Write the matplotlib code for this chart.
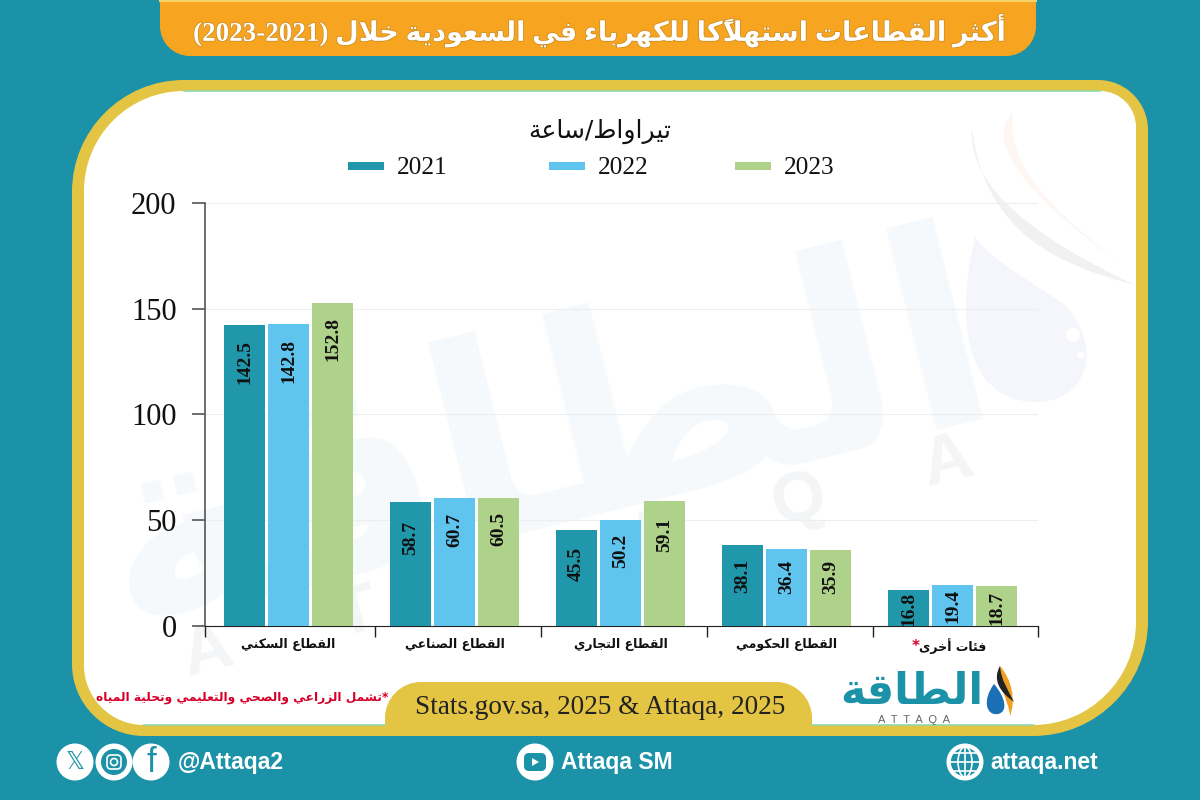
import matplotlib
matplotlib.use('Agg')
import matplotlib.pyplot as plt
import numpy as np
from matplotlib.path import Path
from matplotlib.patches import PathPatch, Circle, Rectangle, FancyBboxPatch, Ellipse, Polygon
import matplotlib.patheffects as pe

# data
categories = ['القطاع السكني', 'القطاع الصناعي', 'القطاع التجاري', 'القطاع الحكومي', 'فئات أخرى']
values_2021 = [142.5, 58.7, 45.5, 38.1, 16.8]
values_2022 = [142.8, 60.7, 50.2, 36.4, 19.4]
values_2023 = [152.8, 60.5, 59.1, 35.9, 18.7]
years = ['2021', '2022', '2023']
yticks = [0, 50, 100, 150, 200]

title_ar = 'أكثر القطاعات استهلاكًا للكهرباء في السعودية خلال'
title_years = '(2023-2021)'
unit = 'تيراواط/ساعة'
note = '*تشمل الزراعي والصحي والتعليمي وتحلية المياه'
source = 'Stats.gov.sa, 2025 & Attaqa, 2025'
logo_ar = 'الطاقة'

TEAL = '#1b92a8'
ORANGE = '#f7a520'
GOLD = '#e3c443'
colors = ['#2197ab', '#5fc5ef', '#afd28a']

# gap in px between bar top and its label, per year then category
label_gaps = [[15, 19, 17, 13, 1], [15, 15, 14, 11, 4], [14, 14, 17, 10, 4]]

# matplotlib does no arabic shaping, so map to presentation forms and reverse
dual = {'ئ': 0xFE89, 'ب': 0xFE8F, 'ت': 0xFE95, 'ث': 0xFE99, 'ج': 0xFE9D, 'ح': 0xFEA1, 'خ': 0xFEA5,
        'س': 0xFEB1, 'ش': 0xFEB5, 'ص': 0xFEB9, 'ض': 0xFEBD, 'ط': 0xFEC1, 'ظ': 0xFEC5, 'ع': 0xFEC9,
        'غ': 0xFECD, 'ف': 0xFED1, 'ق': 0xFED5, 'ك': 0xFED9, 'ل': 0xFEDD, 'م': 0xFEE1, 'ن': 0xFEE5,
        'ه': 0xFEE9, 'ي': 0xFEF1}
right = {'آ': 0xFE81, 'أ': 0xFE83, 'ؤ': 0xFE85, 'إ': 0xFE87, 'ا': 0xFE8D, 'ة': 0xFE93, 'د': 0xFEA9,
         'ذ': 0xFEAB, 'ر': 0xFEAD, 'ز': 0xFEAF, 'و': 0xFEED, 'ى': 0xFEEF}
lam_alef = {'ا': 0xFEFB, 'أ': 0xFEF7, 'إ': 0xFEF9, 'آ': 0xFEF5}
marks = '\u064b\u064c\u064d\u064e\u064f\u0650\u0651\u0652'


def shape(s):
    # split into letters with their marks
    items = []
    for c in s:
        if c in marks and items:
            items[-1][1] += c
        else:
            items.append([c, ''])
    out = []
    i = 0
    prev_joins = False
    while i < len(items):
        c, m = items[i]
        nxt = items[i + 1][0] if i + 1 < len(items) else ''
        if c == 'ل' and nxt in lam_alef and nxt:
            out.append(chr(lam_alef[nxt] + (1 if prev_joins else 0)) + m + items[i + 1][1])
            prev_joins = False
            i += 2
            continue
        if c in dual:
            base = dual[c]
            next_ok = nxt in dual or nxt in right
            if prev_joins and next_ok:
                g = base + 3
            elif prev_joins:
                g = base + 1
            elif next_ok:
                g = base + 2
            else:
                g = base
            out.append(chr(g) + m)
            prev_joins = next_ok
        elif c in right:
            out.append(chr(right[c] + (1 if prev_joins else 0)) + m)
            prev_joins = False
        else:
            out.append(c + m)
            prev_joins = False
        i += 1
    return ''.join(reversed(out))


def rrect(x0, y0, x1, y1, tl, tr, br, bl):
    k = 0.5523
    v = [(x0 + tl, y0), (x1 - tr, y0),
         (x1 - tr + k * tr, y0), (x1, y0 + tr - k * tr), (x1, y0 + tr),
         (x1, y1 - br),
         (x1, y1 - br + k * br), (x1 - br + k * br, y1), (x1 - br, y1),
         (x0 + bl, y1),
         (x0 + bl - k * bl, y1), (x0, y1 - bl + k * bl), (x0, y1 - bl),
         (x0, y0 + tl),
         (x0, y0 + tl - k * tl), (x0 + tl - k * tl, y0), (x0 + tl, y0), (x0 + tl, y0)]
    c = [Path.MOVETO, Path.LINETO, Path.CURVE4, Path.CURVE4, Path.CURVE4, Path.LINETO,
         Path.CURVE4, Path.CURVE4, Path.CURVE4, Path.LINETO, Path.CURVE4, Path.CURVE4, Path.CURVE4,
         Path.LINETO, Path.CURVE4, Path.CURVE4, Path.CURVE4, Path.CLOSEPOLY]
    return Path(v, c)


def blob(a, pts, color, **kw):
    # closed shape from cubic segments, pts = start + 3 per segment
    codes = [Path.MOVETO] + [Path.CURVE4] * (len(pts) - 1)
    p = PathPatch(Path(pts, codes), fc=color, ec='none', **kw)
    a.add_patch(p)
    return p


fig = plt.figure(figsize=(12, 8), dpi=100)
bg = fig.add_axes([0, 0, 1, 1], zorder=0)
bg.set_xlim(0, 1200)
bg.set_ylim(800, 0)
bg.axis('off')
bg.add_patch(Rectangle((0, 0), 1200, 800, fc=TEAL, ec='none'))

# title bar
bg.add_patch(PathPatch(rrect(160, -40, 1036, 56, 0, 0, 30, 30), fc=ORANGE, ec='none'))
bg.plot([160, 1036], [1, 1], color='#f3d36a', lw=1.5)
bg.text(600, 31, title_years + ' ' + shape(title_ar), color='white', fontsize=19.5, weight='bold',
        family=['Liberation Serif', 'DejaVu Sans'], ha='center', va='center',
        path_effects=[pe.withStroke(linewidth=1, foreground='#c98a20')])

# frame
bg.add_patch(PathPatch(rrect(72, 80, 1148, 736, 112, 50, 115, 72), fc=GOLD, ec='none'))
panel = PathPatch(rrect(84, 91, 1136, 725, 100, 36, 103, 60), fc='white', ec='none')
bg.add_patch(panel)
bg.plot([184, 1100], [91, 91], color='#8fd8ae', lw=1.2)
bg.plot([144, 385], [724.5, 724.5], color='#8fd8ae', lw=1.2)
bg.plot([812, 1033], [724.5, 724.5], color='#8fd8ae', lw=1.2)

# watermark
wm = bg.text(545, 445, shape(logo_ar), fontsize=197, weight='bold', color='#f6f9fb',
             family='DejaVu Sans', ha='center', va='center', rotation=14)
for i, ch in enumerate('ATTAQA'):
    bg.text(207 + 148 * i, 652 - 38 * i, ch, fontsize=50, weight='bold', color='#f4f5f6',
            family='Liberation Sans', ha='center', va='center', rotation=14)
blob(bg, [(972, 128), (968, 190), (1040, 240), (1135, 285),
          (1060, 265), (985, 235), (972, 128)], '#f1f1f2')
blob(bg, [(1013, 112), (985, 140), (1020, 190), (1118, 262),
          (1060, 215), (1005, 170), (1013, 112)], '#fdf6f2')
blob(bg, [(975, 237), (955, 320), (965, 402), (1037, 402),
          (1085, 402), (1105, 350), (1065, 305),
          (1030, 280), (990, 260), (975, 237)], '#f5f6fb')
bg.add_patch(Circle((1073, 335), 7, fc='white', ec='none'))
bg.add_patch(Circle((1081, 355), 3.5, fc='white', ec='none'))

# source pill
bg.add_patch(PathPatch(rrect(385, 682, 812, 726, 36, 36, 0, 0), fc=GOLD, ec='none'))
bg.text(600, 708, source, fontsize=19.6, family='Liberation Serif', color='#222222', ha='center', va='center')
bg.text(388, 697, shape(note), fontsize=8.8, weight='bold', color='#d6002a', family='DejaVu Sans', ha='right', va='center')

# unit + legend
bg.text(600, 131, shape(unit), fontsize=18, family='DejaVu Sans', color='#111111', ha='center', va='center')
for yr, col, xs in zip(years, colors, [348, 549, 735]):
    bg.add_patch(Rectangle((xs, 162), 36, 8, fc=col, ec='none'))
    bg.text(xs + 49, 168, yr, fontsize=18.3, family='Liberation Serif', color='#111111', va='center')

# logo
bg.text(912, 692, shape(logo_ar), fontsize=31, weight='bold', color=TEAL, family='DejaVu Sans', ha='center', va='center')
bg.text(914, 720, 'A  T  T  A  Q  A', fontsize=8, color='#666666', family='Liberation Sans', ha='center', va='center')
blob(bg, [(1000, 666), (1012, 680), (1016, 700), (1010, 716),
          (1009, 700), (996, 685), (1000, 666)], '#f0a020')
blob(bg, [(1000, 666), (992, 680), (1000, 692), (1014, 702),
          (1008, 690), (1001, 680), (1000, 666)], '#222222')
blob(bg, [(994, 684), (982, 700), (986, 716), (998, 714),
          (1008, 712), (1006, 698), (994, 684)], '#1b6fb5')

# footer icons
for cx in [75, 114, 151, 535, 965]:
    bg.add_patch(Circle((cx, 762), 18.5, fc='white', ec='none'))
bg.text(75, 762, '\U0001D54F', fontsize=17, color=TEAL, family='DejaVu Sans', ha='center', va='center')
bg.add_patch(Circle((114, 762), 13, fc=TEAL, ec='none'))
bg.add_patch(FancyBboxPatch((107, 755), 14, 14, boxstyle='round,pad=0,rounding_size=4', fc='none', ec='white', lw=1.2))
bg.add_patch(Circle((114, 762), 3.5, fc='none', ec='white', lw=1.2))
bg.text(151, 763, 'f', fontsize=25, color=TEAL, family='Liberation Sans', ha='center', va='center')
bg.add_patch(FancyBboxPatch((524, 753), 22, 18, boxstyle='round,pad=0,rounding_size=5', fc=TEAL, ec='none'))
bg.add_patch(Polygon([(532, 758), (532, 766), (539, 762)], fc='white', ec='none'))
bg.add_patch(Circle((965, 762), 15, fc=TEAL, ec='white', lw=1.2))
bg.add_patch(Ellipse((965, 762), 14, 30, fc='none', ec='white', lw=1.2))
bg.plot([950, 980], [762, 762], color='white', lw=1.2)
bg.plot([965, 965], [747, 777], color='white', lw=1.2)
bg.plot([953, 977], [753, 753], color='white', lw=1.2)
bg.plot([953, 977], [771, 771], color='white', lw=1.2)
for x, s in [(178, '@Attaqa2'), (561, 'Attaqa SM'), (990, 'attaqa.net')]:
    bg.text(x, 763, s, fontsize=16.5, weight='bold', family='Liberation Sans', color='white', va='center')

# chart, pixel box 205..1038 x 203..626
ax = fig.add_axes([205 / 1200, (800 - 626) / 800, 833 / 1200, 423 / 800], zorder=1)
ax.patch.set_alpha(0)
x = np.arange(len(categories))
w = 0.244
off = 0.265
for i, (vals, col) in enumerate(zip([values_2021, values_2022, values_2023], colors)):
    bars = ax.bar(x + (i - 1) * off, vals, w, color=col, zorder=3)
    for b, v, gap in zip(bars, vals, label_gaps[i]):
        ax.annotate(f'{v:.1f}', (b.get_x() + b.get_width() / 2, v), xytext=(0, -gap), textcoords='offset pixels',
                    rotation=90, ha='center', va='top', fontsize=14, weight='bold',
                    family='Liberation Serif', color='#111111', zorder=4)

ax.set_xlim(-0.503, 4.515)
ax.set_ylim(0, 200)
ax.set_yticks(yticks)
ax.set_yticklabels([str(t) for t in yticks], fontsize=22, family='Liberation Serif', color='#111111')
ax.grid(axis='y', color='#eeeeee', lw=0.8, zorder=0)
ax.set_axisbelow(True)
ax.tick_params(axis='y', length=9.5, width=1.2, color='#555555', pad=11)
ax.set_xticks([-0.503, 0.52, 1.52, 2.52, 3.52, 4.515])
ax.set_xticklabels([])
ax.tick_params(axis='x', which='major', length=8, width=1, color='#222222')
ax.set_xticks(x, minor=True)
ax.set_xticklabels([shape(c) for c in categories], minor=True, fontsize=9, weight='bold',
                   family='DejaVu Sans', color='#111111')
ax.tick_params(axis='x', which='minor', length=0, pad=8.5)
ax.annotate('*', (4, 0), xycoords='data', xytext=(-37, -20), textcoords='offset pixels',
            color='#d6002a', fontsize=11, weight='bold', family='DejaVu Sans', ha='center', va='center',
            annotation_clip=False)
for s in ['top', 'right']:
    ax.spines[s].set_visible(False)
ax.spines['left'].set_color('#555555')
ax.spines['left'].set_linewidth(1.2)
ax.spines['bottom'].set_color('#222222')

fig.savefig('out.png', dpi=100)
